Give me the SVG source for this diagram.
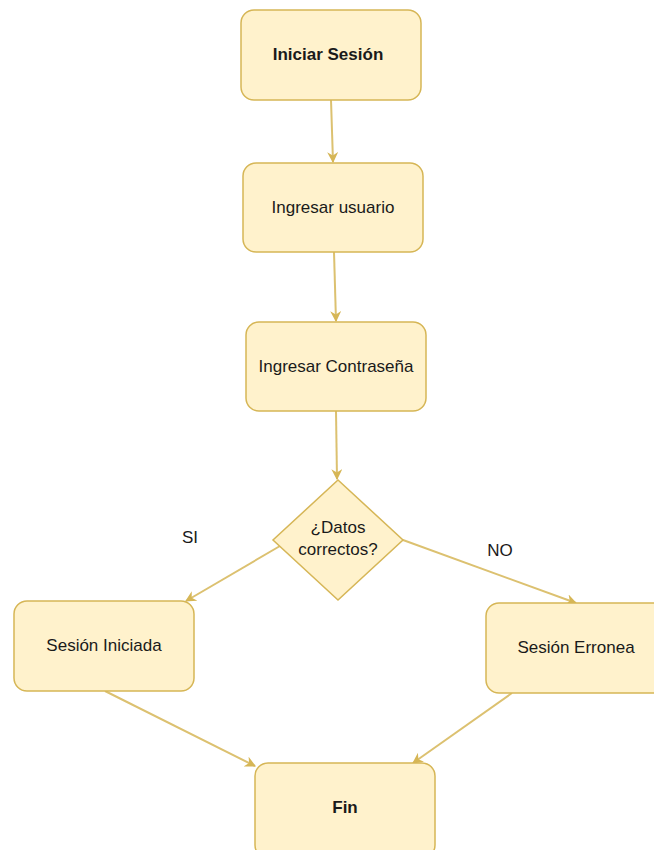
<svg xmlns="http://www.w3.org/2000/svg" width="654" height="850" viewBox="0 0 654 850">
<defs>
<style>
.n{fill:#fff2cc;stroke:#d6b656;stroke-width:1.5}
.t{font-family:"Liberation Sans",Arial,sans-serif;font-size:17px;fill:#1a1a1a;text-anchor:middle}
.b{font-weight:bold}
.e{fill:none;stroke:#dcc170;stroke-width:2}
</style>
<marker id="a" viewBox="0 0 10 10" refX="9" refY="5" markerWidth="11" markerHeight="11" markerUnits="userSpaceOnUse" orient="auto">
<path d="M0,0 L10,5 L0,10 L3,5 Z" fill="#d6b656"/>
</marker>
</defs>
<rect width="654" height="850" fill="#ffffff"/>
<g id="edges">
<line class="e" x1="331" y1="100" x2="333" y2="162" marker-end="url(#a)"/>
<line class="e" x1="334" y1="252" x2="336" y2="321" marker-end="url(#a)"/>
<line class="e" x1="336" y1="411" x2="337" y2="479" marker-end="url(#a)"/>
<line class="e" x1="280" y1="546" x2="186" y2="601" marker-end="url(#a)"/>
<line class="e" x1="403" y1="540" x2="576" y2="603" marker-end="url(#a)"/>
<line class="e" x1="105" y1="691" x2="255" y2="766" marker-end="url(#a)"/>
<line class="e" x1="512" y1="693" x2="413" y2="763" marker-end="url(#a)"/>
</g>
<g id="iniciar">
<rect class="n" x="241" y="10" width="180" height="90" rx="13"/>
<text class="t b" x="328" y="60">Iniciar Sesión</text>
</g>
<g id="usuario">
<rect class="n" x="243" y="163" width="180" height="89" rx="13"/>
<text class="t" x="333" y="213">Ingresar usuario</text>
</g>
<g id="contrasena">
<rect class="n" x="246" y="322" width="180" height="89" rx="13"/>
<text class="t" x="336" y="372">Ingresar Contraseña</text>
</g>
<g id="datos">
<polygon class="n" points="338,480 403,540 338,600 273,540"/>
<text class="t" x="338" y="533">¿Datos</text>
<text class="t" x="338" y="555">correctos?</text>
</g>
<g id="iniciada">
<rect class="n" x="14" y="601" width="180" height="90" rx="13"/>
<text class="t" x="104" y="651">Sesión Iniciada</text>
</g>
<g id="erronea">
<rect class="n" x="486" y="603" width="180" height="90" rx="13"/>
<text class="t" x="576" y="653">Sesión Erronea</text>
</g>
<g id="fin">
<rect class="n" x="255" y="763" width="180" height="95" rx="13"/>
<text class="t b" x="345" y="813">Fin</text>
</g>
<g id="labels">
<text class="t" x="190" y="543">SI</text>
<text class="t" x="500" y="556">NO</text>
</g>
</svg>
